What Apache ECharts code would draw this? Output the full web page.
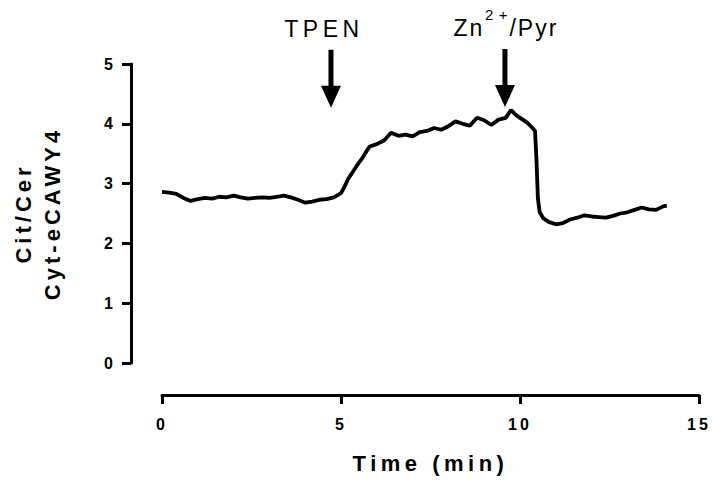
<!DOCTYPE html>
<html>
<head>
<meta charset="utf-8">
<script src="https://cdn.jsdelivr.net/npm/echarts@6/dist/echarts.min.js"></script>
<style>
  html, body { margin: 0; padding: 0; background: #fff; }
  #chart { width: 712px; height: 484px; }
</style>
</head>
<body>
<div id="chart"></div>
<script>
// Cit/Cer ratio trace (time in min)
const timeMin = [
  0.0, 0.2, 0.4, 0.6, 0.8, 1.0, 1.2, 1.4, 1.6, 1.8,
  2.0, 2.2, 2.4, 2.6, 2.8, 3.0, 3.2, 3.4, 3.6, 3.8,
  4.0, 4.2, 4.4, 4.6, 4.8, 5.0, 5.1, 5.2, 5.3, 5.4,
  5.5, 5.6, 5.7, 5.8, 6.0, 6.2, 6.4, 6.6, 6.8, 7.0,
  7.2, 7.4, 7.6, 7.8, 8.0, 8.2, 8.4, 8.6, 8.8, 9.0,
  9.2, 9.4, 9.6, 9.75, 9.9, 10.0, 10.2, 10.35, 10.42, 10.46,
  10.5, 10.55, 10.65, 10.8, 11.0, 11.2, 11.4, 11.6, 11.8, 12.0,
  12.2, 12.4, 12.6, 12.8, 13.0, 13.2, 13.4, 13.6, 13.8, 14.0, 14.1
];
const ratio = [
  2.86, 2.85, 2.83, 2.76, 2.71, 2.74, 2.76, 2.75, 2.78, 2.77,
  2.80, 2.77, 2.75, 2.76, 2.77, 2.76, 2.78, 2.80, 2.77, 2.73,
  2.68, 2.70, 2.73, 2.74, 2.77, 2.84, 2.95, 3.08, 3.17, 3.26,
  3.35, 3.43, 3.53, 3.62, 3.66, 3.72, 3.85, 3.80, 3.82, 3.79,
  3.86, 3.88, 3.93, 3.90, 3.96, 4.04, 4.00, 3.97, 4.10, 4.06,
  3.98, 4.07, 4.10, 4.23, 4.14, 4.10, 4.02, 3.93, 3.88, 3.40,
  2.75, 2.52, 2.42, 2.36, 2.32, 2.34, 2.40, 2.43, 2.47, 2.45,
  2.44, 2.43, 2.46, 2.50, 2.52, 2.56, 2.60, 2.57, 2.56, 2.62, 2.63
];

// treatment arrows: where they point, and what was added
const eventTimes = [4.72, 9.58];
const eventTipY = [4.27, 4.28];
// label pieces: [text, style] so "2+" can be set as a superscript
const eventLabels = [
  [["TPEN", "a"]],
  [["Zn", "b"], ["2+", "sup"], ["/Pyr", "b"]]
];

const FONT = "Liberation Sans, Arial, sans-serif";
const ARROW = "path://M7.5,0 L12.5,0 L12.5,36 L20,36 L10,58 L0,36 L7.5,36 Z";
const LABEL_SHIFT = [[-7, 0], [1, 0]];

// one rich token per character so the label gets the wide Prism spacing
function spaced(parts) {
  return parts.map(([txt, st]) => txt.split("").map(ch => `{${st}|${ch}}`).join("")).join("");
}

const chart = echarts.init(document.getElementById("chart"), null, { renderer: "svg" });

const nameStyle = { color: "#000", fontFamily: FONT, fontWeight: "bold", fontSize: 22 };
const tickLabel = { color: "#000", fontFamily: FONT, fontWeight: "bold", fontSize: 16 };

chart.setOption({
  animation: false,
  backgroundColor: "#fff",
  grid: { left: 162, right: 13, top: 64, bottom: 121 },
  xAxis: {
    type: "value",
    min: 0, max: 15, interval: 5,
    offset: 32,
    name: "Time (min)",
    nameLocation: "middle",
    nameGap: 57,
    nameMoveOverlap: false,
    nameTextStyle: nameStyle,
    axisLine: { onZero: false, lineStyle: { color: "#000", width: 3 } },
    axisTick: { length: 9, lineStyle: { color: "#000", width: 3 } },
    axisLabel: { ...tickLabel, margin: 21 },
    splitLine: { show: false }
  },
  yAxis: [{
    type: "value",
    min: 0, max: 5, interval: 1,
    offset: 31,
    name: "Cyt-eCAWY4",
    nameLocation: "middle",
    nameGap: 68,
    nameMoveOverlap: false,
    nameTextStyle: nameStyle,
    axisLine: { show: true, onZero: false, lineStyle: { color: "#000", width: 3 } },
    axisTick: { show: true, length: 9, lineStyle: { color: "#000", width: 3 } },
    axisLabel: { ...tickLabel, margin: 15 },
    splitLine: { show: false }
  }, {
    // upper line of the y title only
    type: "value",
    position: "left",
    min: 0, max: 5, interval: 1,
    offset: 31,
    name: "Cit/Cer",
    nameLocation: "middle",
    nameGap: 97,
    nameMoveOverlap: false,
    nameTextStyle: nameStyle,
    axisLine: { show: false, onZero: false },
    axisTick: { show: false },
    axisLabel: { show: false },
    splitLine: { show: false }
  }],
  series: [{
    type: "line",
    data: timeMin.map((t, i) => [t, ratio[i]]),
    showSymbol: false,
    lineStyle: { color: "#000", width: 3.8 },
    itemStyle: { color: "#000" },
    markPoint: {
      symbol: ARROW,
      symbolSize: [20, 58],
      symbolOffset: [0, "-50%"],
      itemStyle: { color: "#000" },
      label: {
        show: true,
        position: "top",
        distance: 0,
        rich: {
          a: { fontFamily: FONT, fontSize: 23, lineHeight: 42, color: "#000", padding: [0, 4.5, 0, 0] },
          b: { fontFamily: FONT, fontSize: 23, lineHeight: 42, color: "#000", padding: [0, 2, 0, 0] },
          sup: { fontFamily: FONT, fontSize: 15, lineHeight: 15, verticalAlign: "top", color: "#000", padding: [0, 2, 0, 2] }
        }
      },
      data: eventTimes.map((t, i) => ({
        coord: [t, eventTipY[i]],
        label: { formatter: spaced(eventLabels[i]), offset: LABEL_SHIFT[i] }
      }))
    }
  }]
});

// axis texts are letter-spaced in the figure
document.querySelectorAll("#chart svg text").forEach(el => {
  const s = el.textContent;
  if (/^\d+$/.test(s)) el.style.letterSpacing = "3px";
  else if (s === "Time (min)") el.style.letterSpacing = "4.5px";
  else if (s === "Cit/Cer" || s === "Cyt-eCAWY4") el.style.letterSpacing = "4px";
});
</script>
</body>
</html>
